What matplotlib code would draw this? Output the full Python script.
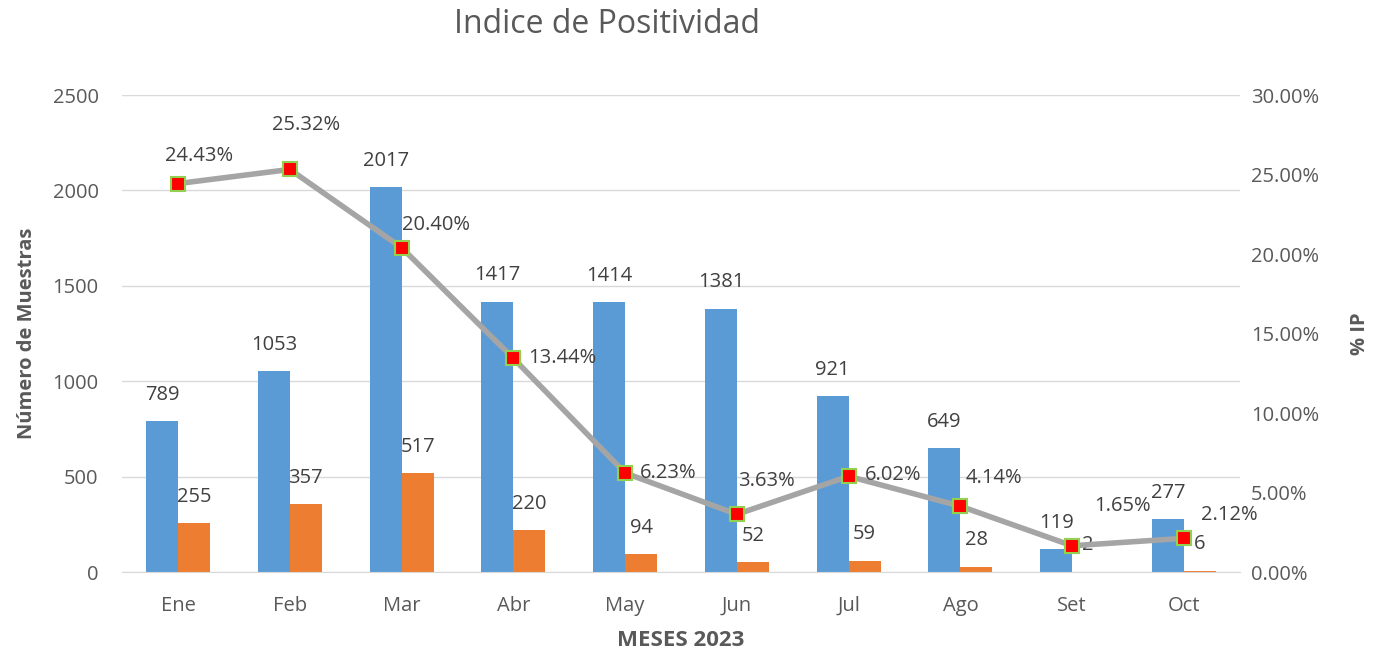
import matplotlib
matplotlib.use('Agg')
import matplotlib.pyplot as plt
import numpy as np

meses = ['Ene', 'Feb', 'Mar', 'Abr', 'May', 'Jun', 'Jul', 'Ago', 'Set', 'Oct']
muestras = [789, 1053, 2017, 1417, 1414, 1381, 921, 649, 119, 277]
positivos = [255, 357, 517, 220, 94, 52, 59, 28, 2, 6]
ip = [24.43, 25.32, 20.40, 13.44, 6.23, 3.63, 6.02, 4.14, 1.65, 2.12]
# label offsets (points) for the % labels
ip_off = [(15, 20), (12, 32), (25, 16), (35, 0), (31, 0), (21, 24), (32, 1), (24, 20), (36, 29), (33, 17)]

plt.rcParams['font.family'] = ['Open Sans', 'DejaVu Sans']
txt = '#404040'
tick = '#595959'

fig = plt.figure(figsize=(13.73, 6.53), dpi=100)
ax = fig.add_axes([0.089, 0.124, 0.814, 0.7305])
ax2 = ax.twinx()

x = np.arange(len(meses))
w = 0.286
b1 = ax.bar(x - w/2, muestras, w, color='#5B9BD5', zorder=2)
b2 = ax.bar(x + w/2, positivos, w, color='#ED7D31', zorder=2)
for r, v in zip(b1, muestras):
    ax.annotate(str(v), (r.get_x() + r.get_width()/2, v), xytext=(0, 19), textcoords='offset points',
                ha='center', va='center', fontsize=14.5, color=txt)
for r, v in zip(b2, positivos):
    ax.annotate(str(v), (r.get_x() + r.get_width()/2, v), xytext=(0, 19), textcoords='offset points',
                ha='center', va='center', fontsize=14.5, color=txt)

ax.set_xlim(-0.5, len(meses) - 0.5)
ax.set_ylim(0, 2500)
ax.set_yticks(range(0, 2501, 500))
ax.grid(axis='y', color='#D9D9D9', lw=1, zorder=0)
ax.set_axisbelow(True)
for s in ['top', 'right', 'left']:
    ax.spines[s].set_visible(False)
ax.spines['bottom'].set_color('#D9D9D9')
ax.tick_params(axis='y', length=0, labelsize=14.5, labelcolor=tick, pad=17)
ax.tick_params(axis='x', length=0, labelsize=14.5, labelcolor=tick, pad=17)
ax.set_xticks(x)
ax.set_xticklabels(meses)
ax.set_ylabel('Número de Muestras', fontsize=14.5, fontweight='bold', color=tick, labelpad=11)
ax.set_xlabel('MESES 2023', fontsize=16, fontweight='bold', color=tick, labelpad=10)

ax2.plot(x, ip, color='#A5A5A5', lw=4, marker='s', markersize=10, markerfacecolor='#FF0000',
         markeredgecolor='#92D050', markeredgewidth=1.5, zorder=3)
for xi, v, off in zip(x, ip, ip_off):
    ax2.annotate('%.2f%%' % v, (xi, v), xytext=off, textcoords='offset points',
                 ha='center', va='center', fontsize=14.5, color=txt)
ax2.set_ylim(0, 30)
ax2.set_yticks(range(0, 31, 5))
ax2.set_yticklabels(['%.2f%%' % t for t in range(0, 31, 5)])
for s in ['top', 'right', 'left', 'bottom']:
    ax2.spines[s].set_visible(False)
ax2.tick_params(axis='y', length=0, labelsize=14.5, labelcolor=tick, pad=8)
ax2.set_ylabel('% IP', fontsize=14.5, fontweight='bold', color=tick, labelpad=22)

fig.text(0.442, 0.963, 'Indice de Positividad', ha='center', va='center', fontsize=23, color=tick)

fig.savefig('out.png', dpi=100)
